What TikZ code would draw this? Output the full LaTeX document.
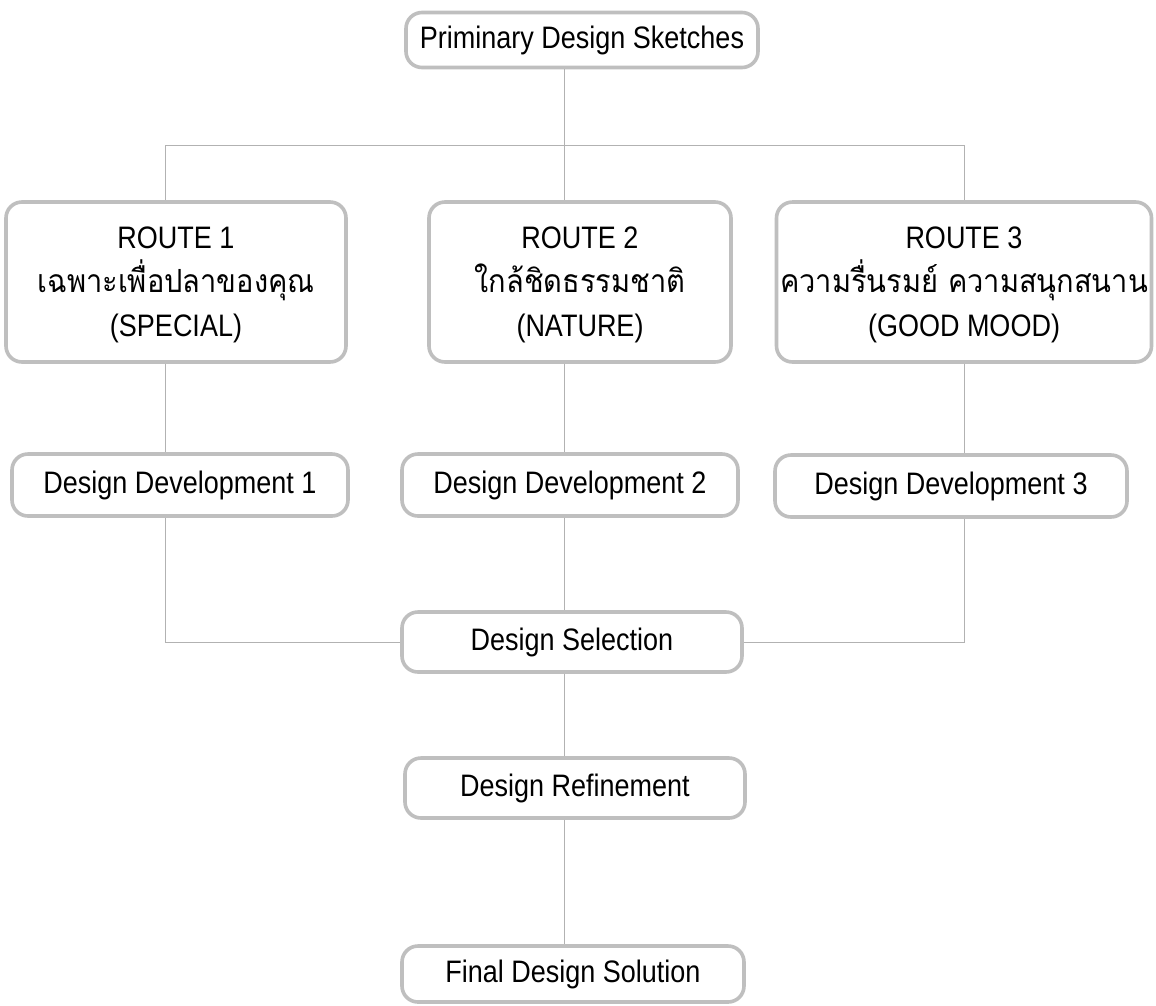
\documentclass[tikz,border=0pt]{standalone}
\usepackage{fontspec}
\usepackage{graphicx}
\setmainfont{Liberation Sans}
\newfontfamily\thaifont[Script=Thai]{Loma}
\newcommand\stretchtxt[1]{\scalebox{1}[1.15]{#1}}
\newcommand\thaitxt[1]{\scalebox{1}[1.1]{\thaifont\fontsize{29}{44}\selectfont #1}}
\begin{document}
\begin{tikzpicture}[x=1pt,y=-1pt,
  box/.style={draw=gray!50, line width=3.6pt, rounded corners=16pt, fill=white,
    align=center, inner sep=0pt, font=\fontsize{27}{44}\selectfont},
  conn/.style={draw=gray!60, line width=0.8pt}]
\useasboundingbox[fill=white] (0,0) rectangle (1156,1005);
% junction coordinates
\coordinate (j0) at (564,145);
\coordinate (jl) at (165,145);
\coordinate (jr) at (964,145);
\coordinate (bl) at (165,642);
\coordinate (br) at (964,642);
% boxes
\node[box, minimum width=352pt, minimum height=55pt] (top) at (582,40) {\stretchtxt{Priminary Design Sketches}};
\node[box, minimum width=340pt, minimum height=160pt, text depth=0pt] (r1) at (176,282)
  {\stretchtxt{ROUTE 1}\\\thaitxt{เฉพาะเพื่อปลาของคุณ}\\\stretchtxt{(SPECIAL)}};
\node[box, minimum width=302pt, minimum height=160pt, text depth=0pt] (r2) at (580,282)
  {\stretchtxt{ROUTE 2}\\\thaitxt{ใกล้ชิดธรรมชาติ}\\\stretchtxt{(NATURE)}};
\node[box, minimum width=375pt, minimum height=160pt, text depth=0pt] (r3) at (964,282)
  {\stretchtxt{ROUTE 3}\\\thaitxt{ความรื่นรมย์ ความสนุกสนาน}\\\stretchtxt{(GOOD MOOD)}};
\node[box, minimum width=336pt, minimum height=62pt] (dd1) at (180,485) {\stretchtxt{Design Development 1}};
\node[box, minimum width=336pt, minimum height=62pt] (dd2) at (570,485) {\stretchtxt{Design Development 2}};
\node[box, minimum width=352pt, minimum height=62pt] (dd3) at (951,486) {\stretchtxt{Design Development 3}};
\node[box, minimum width=340pt, minimum height=60pt] (ds) at (572,642) {\stretchtxt{Design Selection}};
\node[box, minimum width=340pt, minimum height=60pt] (dr) at (575,788) {\stretchtxt{Design Refinement}};
\node[box, minimum width=342pt, minimum height=56pt] (fin) at (573,974) {\stretchtxt{Final Design Solution}};
% connectors
\draw[conn] (top.south -| j0) -- (j0);
\draw[conn] (jl) -- (jr);
\draw[conn] (jl) -- (r1.north -| jl);
\draw[conn] (j0) -- (r2.north -| j0);
\draw[conn] (jr) -- (r3.north -| jr);
\draw[conn] (r1.south -| jl) -- (dd1.north -| jl);
\draw[conn] (r2.south -| j0) -- (dd2.north -| j0);
\draw[conn] (r3.south -| jr) -- (dd3.north -| jr);
\draw[conn] (dd1.south -| bl) -- (bl) -- (ds.west);
\draw[conn] (dd3.south -| br) -- (br) -- (ds.east);
\draw[conn] (dd2.south -| j0) -- (ds.north -| j0);
\draw[conn] (ds.south -| j0) -- (dr.north -| j0);
\draw[conn] (dr.south -| j0) -- (fin.north -| j0);
\end{tikzpicture}
\end{document}
